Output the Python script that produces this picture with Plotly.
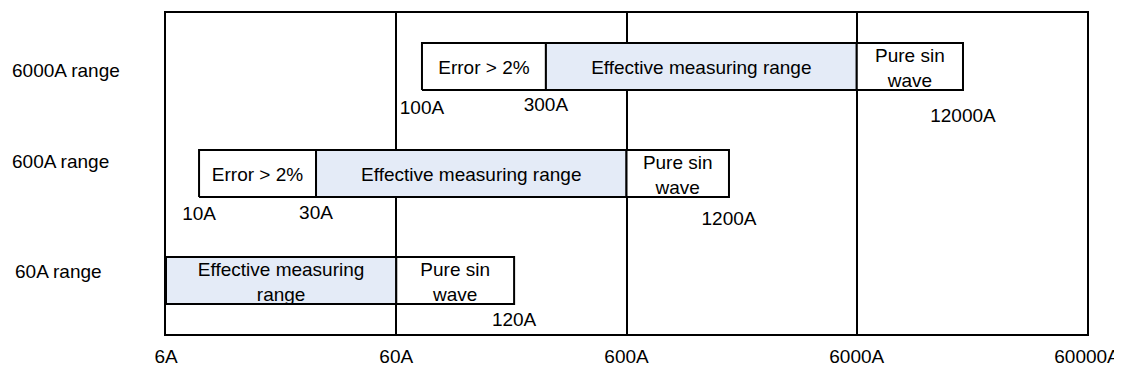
import numpy as np
import plotly.graph_objects as go

# ---------------- data ----------------
row_names = ["60A range", "600A range", "6000A range"]
row_y = [1, 3, 5]
row_label_y = [1.17, 3.23, 4.93]
row_label_px = [5, 2, 2]

# segments (drawn box edges in amps)
seg_row = [0, 0, 1, 1, 1, 2, 2, 2]
seg_start = [6, 60, 8.35, 26.9, 600, 77.6, 268, 6000]
seg_end = [60, 195, 26.9, 600, 1672, 268, 6000, 17360]
seg_text = ["Effective measuring<br>range", "Pure sin<br>wave",
            "Error > 2%", "Effective measuring range", "Pure sin<br>wave",
            "Error > 2%", "Effective measuring range", "Pure sin<br>wave"]
seg_kind = ["eff", "pure", "err", "eff", "pure", "err", "eff", "pure"]

# edge labels
edge_text = ["120A", "10A", "30A", "1200A", "100A", "300A", "12000A"]
edge_value = [195, 8.35, 26.9, 1672, 77.6, 268, 17360]
edge_row = [0, 1, 1, 1, 2, 2, 2]
edge_drop = [0.33, 0.34, 0.32, 0.43, 0.35, 0.31, 0.50]

tick_vals = [6, 60, 600, 6000, 60000]
tick_text = ["6A", "60A", "600A", "6000A", "60000A"]

# ---------------- styles ----------------
FONT = "Liberation Sans, Arial, sans-serif"
FS = 19
fill_colors = {"eff": "#E4EBF7", "err": "#FFFFFF", "pure": "#FFFFFF"}
half_h = 0.44
text_drop = 0.055
ML, MR, MT, MB = 158, 43, 5, 50
W, H = 1122, 376
plot_w = W - ML - MR

fig = go.Figure()

for r, s, e, t, k in zip(seg_row, seg_start, seg_end, seg_text, seg_kind):
    yc = row_y[r]
    fig.add_trace(go.Scatter(
        x=[s, e, e, s, s],
        y=[yc - half_h, yc - half_h, yc + half_h, yc + half_h, yc - half_h],
        mode="lines", fill="toself", fillcolor=fill_colors[k],
        line=dict(color="black", width=2), hoverinfo="skip", showlegend=False))
    fig.add_trace(go.Scatter(
        x=[np.sqrt(s * e)], y=[yc - text_drop], mode="text", text=[t],
        textposition="middle center",
        textfont=dict(family=FONT, size=FS, color="black"),
        hoverinfo="skip", showlegend=False))

fig.add_trace(go.Scatter(
    x=edge_value,
    y=[row_y[r] - half_h - d for r, d in zip(edge_row, edge_drop)],
    mode="text", text=edge_text, textposition="middle center",
    textfont=dict(family=FONT, size=FS, color="black"),
    hoverinfo="skip", showlegend=False, cliponaxis=False))

for name, ly, px in zip(row_names, row_label_y, row_label_px):
    fig.add_annotation(x=(px - ML) / plot_w, xref="paper", y=ly, yref="y",
                       text=name, showarrow=False, xanchor="left",
                       font=dict(family=FONT, size=FS, color="black"))

fig.update_layout(
    width=W, height=H,
    margin=dict(l=ML, r=MR, t=MT, b=MB, autoexpand=False),
    paper_bgcolor="white", plot_bgcolor="white",
    font=dict(family=FONT, size=FS, color="black"),
)
fig.update_xaxes(type="log", range=[np.log10(6), np.log10(60000)],
                 tickvals=tick_vals, ticktext=tick_text,
                 showgrid=True, gridcolor="black", gridwidth=2,
                 showline=True, mirror=True, linecolor="black", linewidth=2,
                 ticks="outside", ticklen=4, tickcolor="rgba(0,0,0,0)",
                 automargin=False, zeroline=False,
                 tickfont=dict(family=FONT, size=FS, color="black"))
fig.update_yaxes(range=[0, 6], showgrid=False, showticklabels=False,
                 showline=True, mirror=True, linecolor="black", linewidth=2,
                 automargin=False, zeroline=False, ticks="")

fig.write_html("out.html")
